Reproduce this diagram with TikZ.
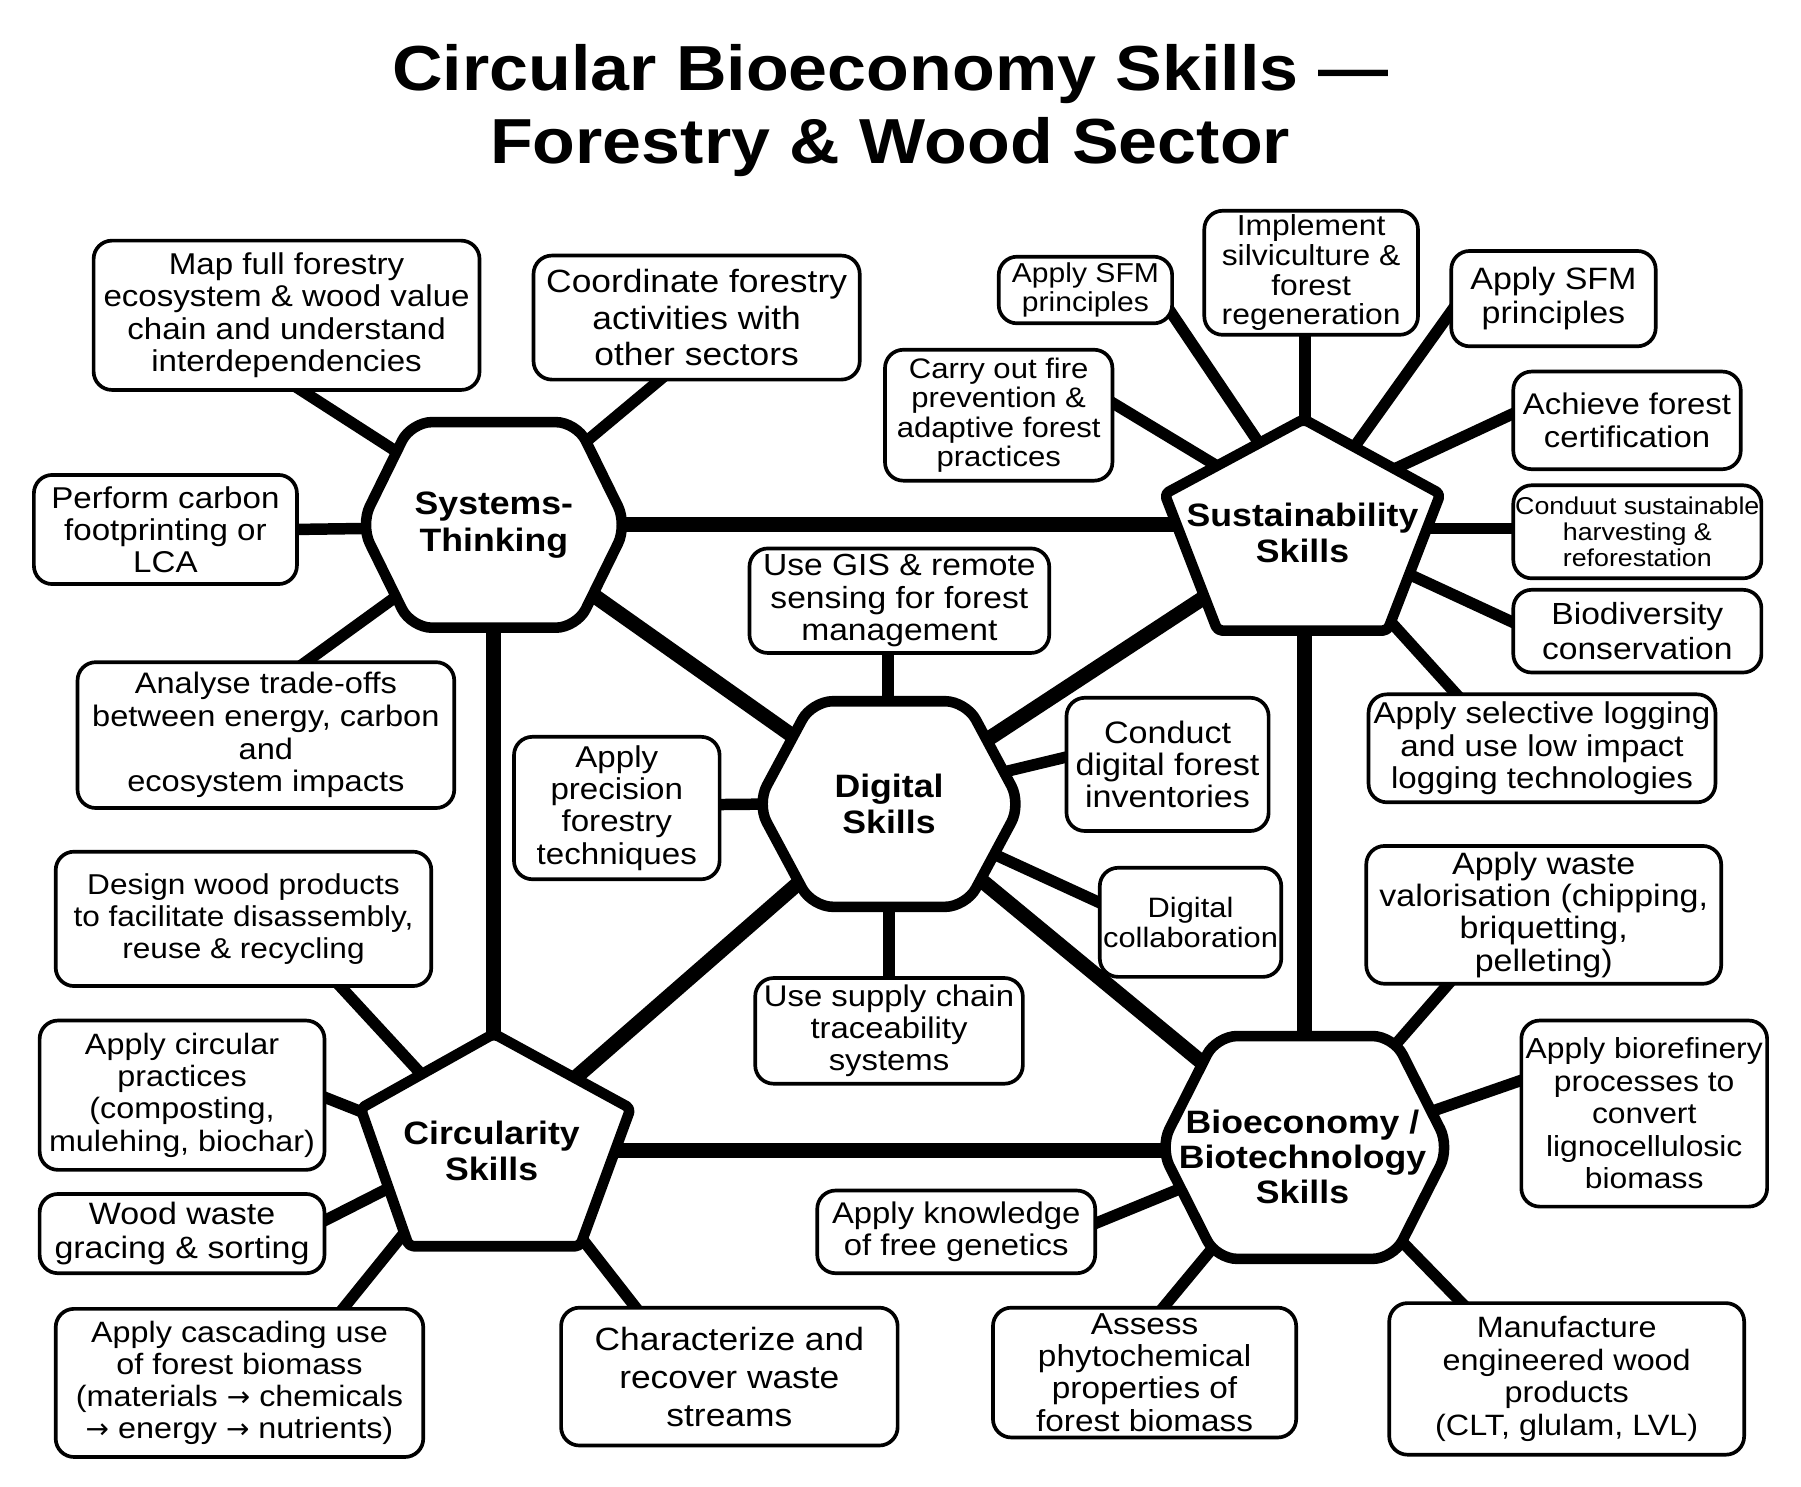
\documentclass[tikz,border=0pt]{standalone}
\usepackage{fontspec}
\setmainfont{Liberation Sans}[FakeStretch=1.1]
\newfontfamily\arrfont{DejaVu Sans}[Scale=0.95]
\newcommand{\rarr}{{\arrfont →}}
\usetikzlibrary{calc}
\pgfdeclarelayer{conn}
\pgfdeclarelayer{hubs}
\pgfsetlayers{conn,hubs,main}
\begin{document}
\begin{tikzpicture}[x=0.5pt,y=-0.5pt,
  box/.style={draw, line width=1.6pt, rounded corners=8pt, fill=white, align=center, inner sep=0pt},
  fs/.style 2 args={font=\fontsize{#1pt}{#2pt}\selectfont},
  hubtext/.style={font=\fontsize{14.1pt}{16pt}\selectfont\bfseries, align=center, inner sep=0pt},
  hubshape/.style={draw, fill=white, line width=4.6pt, line join=round},
  hubline/.style={line width=6.5pt},
  leaf/.style={line width=5pt},
  title/.style={font=\fontsize{27.7pt}{31pt}\selectfont\bfseries, anchor=base, inner sep=0pt}]
\useasboundingbox (0,0) rectangle (1568,1294);

% title
\node[title] (t1) at (775,79) {Circular Bioeconomy Skills —};
\node[title] (t2) at (775,142) {Forestry \& Wood Sector};

% hub texts
\node[hubtext] (st) at (430,457) {Systems-\\Thinking};
\node[hubtext] (su) at (1134,464) {Sustainability\\Skills};
\node[hubtext] (dg) at (774,700) {Digital\\Skills};
\node[hubtext] (ci) at (428,1002) {Circularity\\Skills};
\coordinate (bio) at (1136,999);
\node[hubtext, font=\fontsize{14.1pt}{15.3pt}\selectfont\bfseries] (biot) at (1134,1007) {Bioeconomy /\\Biotechnology\\Skills};

% leaf boxes
\node[box, fs={13.1}{14}, minimum width=168pt, minimum height=65pt] (map) at (249.5,274.5) {Map full forestry\\ecosystem \& wood value\\chain and understand\\interdependencies};
\node[box, fs={14}{15.75}, minimum width=142pt, minimum height=54pt] (coord) at (606.5,276.5) {Coordinate forestry\\activities with\\other sectors};
\node[box, fs={13.1}{14}, minimum width=114.5pt, minimum height=47.5pt] (carbon) at (144,461) {Perform carbon\\footprinting or\\LCA};
\node[box, fs={12.9}{14.2}, minimum width=164pt, minimum height=63.5pt] (trade) at (231.5,640) {Analyse trade-offs\\between energy, carbon\\and\\ecosystem impacts};
\node[box, fs={11.9}{12.5}, minimum width=75.5pt, minimum height=29pt] (sfmA) at (945,252.5) {Apply SFM\\principles};
\node[box, fs={12.6}{12.85}, minimum width=93pt, minimum height=54pt] (silvi) at (1141.5,237.5) {Implement\\silviculture \&\\forest\\regeneration};
\node[box, fs={13.45}{14.5}, minimum width=89pt, minimum height=41.5pt] (sfmB) at (1352.5,260) {Apply SFM\\principles};
\node[box, fs={13}{14}, minimum width=99pt, minimum height=42.5pt] (cert) at (1416.5,366) {Achieve forest\\certification};
\node[box, fs={10.6}{11.5}, minimum width=108pt, minimum height=40.5pt] (harv) at (1425.5,463) {Conduut sustainable\\harvesting \&\\reforestation};
\node[box, fs={13.3}{15}, minimum width=108pt, minimum height=36pt] (biod) at (1425.5,549.5) {Biodiversity\\conservation};
\node[box, fs={13.1}{14.2}, minimum width=151pt, minimum height=47pt] (sel) at (1342.5,651.5) {Apply selective logging\\and use low impact\\logging technologies};
\node[box, fs={12.3}{12.85}, minimum width=99pt, minimum height=57pt] (fire) at (869.5,361.5) {Carry out fire\\prevention \&\\adaptive forest\\practices};
\node[box, fs={13.3}{14.2}, minimum width=130.5pt, minimum height=45.5pt] (gis) at (783,523) {Use GIS \& remote\\sensing for forest\\management};
\node[box, fs={13.1}{14}, minimum width=89.5pt, minimum height=62pt] (prec) at (537,703.5) {Apply\\precision\\forestry\\techniques};
\node[box, fs={13.5}{14}, minimum width=88pt, minimum height=58pt] (inv) at (1016.5,665.5) {Conduct\\digital forest\\inventories};
\node[box, fs={12.2}{13}, minimum width=79pt, minimum height=47.5pt] (collab) at (1036.5,803) {Digital\\collaboration};
\node[box, fs={13}{14}, minimum width=116.5pt, minimum height=46pt] (supply) at (774,897.5) {Use supply chain\\traceability\\systems};
\node[box, fs={12.5}{14}, minimum width=163.5pt, minimum height=58.5pt] (design) at (212,800) {Design wood products\\to facilitate disassembly,\\reuse \& recycling};
\node[box, fs={12.8}{14}, minimum width=124pt, minimum height=65pt] (circ) at (158.5,953.5) {Apply circular\\practices\\(composting,\\mulehing, biochar)};
\node[box, fs={13.45}{14.5}, minimum width=124pt, minimum height=34.5pt] (wood) at (158.5,1074) {Wood waste\\gracing \& sorting};
\node[box, fs={12.8}{14}, minimum width=160pt, minimum height=64.5pt] (casc) at (208.5,1204) {Apply cascading use\\of forest biomass\\(materials \rarr{} chemicals\\\rarr{} energy \rarr{} nutrients)};
\node[box, fs={14}{16.5}, minimum width=146.5pt, minimum height=60pt] (char) at (635,1198.5) {Characterize and\\recover waste\\streams};
\node[box, fs={13.45}{14}, minimum width=154.5pt, minimum height=60pt] (valor) at (1344,796.5) {Apply waste\\valorisation (chipping,\\briquetting,\\pelleting)};
\node[box, fs={12.6}{14.15}, minimum width=107pt, minimum height=81pt] (bioref) at (1431.5,969.5) {Apply biorefinery\\processes to\\convert\\lignocellulosic\\biomass};
\node[box, fs={13}{14}, minimum width=121pt, minimum height=36pt] (gen) at (832.5,1072.5) {Apply knowledge\\of free genetics};
\node[box, fs={13.2}{14}, minimum width=132pt, minimum height=56.5pt] (assess) at (996.5,1195) {Assess\\phytochemical\\properties of\\forest biomass};
\node[box, fs={12.8}{14.15}, minimum width=154.5pt, minimum height=66pt] (manuf) at (1364,1200.5) {Manufacture\\engineered wood\\products\\(CLT, glulam, LVL)};

% hub shapes
\begin{pgfonlayer}{hubs}
\draw[hubshape, rounded corners=9pt] ($(st)+(0,-89.5)$) -- ($(st)+(72,-89.5)$) -- ($(st)+(116,0)$) -- ($(st)+(72,89.5)$) -- ($(st)+(-72,89.5)$) -- ($(st)+(-116,0)$) -- ($(st)+(-72,-89.5)$) -- cycle;
\draw[hubshape, rounded corners=9pt] ($(dg)+(0,-89.5)$) -- ($(dg)+(67,-89.5)$) -- ($(dg)+(115,0)$) -- ($(dg)+(67,89.5)$) -- ($(dg)+(-67,89.5)$) -- ($(dg)+(-115,0)$) -- ($(dg)+(-67,-89.5)$) -- cycle;
\draw[hubshape, rounded corners=9pt] ($(bio)+(0,-97)$) -- ($(bio)+(77,-97)$) -- ($(bio)+(126,0)$) -- ($(bio)+(77,97)$) -- ($(bio)+(-77,97)$) -- ($(bio)+(-126,0)$) -- ($(bio)+(-77,-97)$) -- cycle;
\draw[hubshape, rounded corners=2pt] ($(su)+(0,85)$) -- ($(su)+(-74,85)$) -- ($(su)+(-120,-34)$) -- ($(su)+(1,-99)$) -- ($(su)+(120,-34)$) -- ($(su)+(74,85)$) -- cycle;
\draw[hubshape, rounded corners=2pt] ($(ci)+(2,83)$) -- ($(ci)+(-72,83)$) -- ($(ci)+(-114,-37)$) -- ($(ci)+(2,-102)$) -- ($(ci)+(121,-37)$) -- ($(ci)+(77,83)$) -- cycle;
\end{pgfonlayer}

% connectors
\begin{pgfonlayer}{conn}
\fill[white] (0,0) rectangle (1568,1294);
\draw[hubline] (st.center) -- (st.center -| su.center);
\draw[hubline] (st.center) -- (st.center |- ci.center);
\draw[hubline] (bio) -- (bio |- su.center);
\draw[hubline] (ci.center) -- (ci.center -| bio);
\draw[hubline] (st.center) -- (dg.center);
\draw[hubline] (su.center) -- (dg.center);
\draw[hubline] (ci.center) -- (dg.center);
\draw[hubline] (bio) -- (dg.center);
% systems
\draw[leaf] ($(map.south)+(5.5,-6)$) -- ($(st)+(-68,-53)$);
\draw[leaf] ($(coord.south)+(-26.5,-6)$) -- ($(st)+(64,-59)$);
\draw[leaf] ($(carbon.east)+(-6,0)$) -- ($(st)+(-105,3)$);
\draw[leaf] ($(trade.north)+(28.5,6)$) -- ($(st)+(-68,50)$);
% sustainability
\draw[leaf] ($(sfmA.east)+(-6,14.5)$) -- ($(su)+(-31,-68)$);
\draw[leaf] ($(silvi.south)+(-5.5,-6)$) -- ($(su)+(2,-84)$);
\draw[leaf] ($(sfmB.west)+(6,5)$) -- ($(su)+(38,-65)$);
\draw[leaf] ($(cert.west)+(6,-8)$) -- ($(su)+(72,-52)$);
\draw[leaf] ($(harv.west)+(6,-3)$) -- ($(su)+(80,-4)$);
\draw[leaf] ($(biod.west)+(6,-5.5)$) -- ($(su)+(82,31)$);
\draw[leaf] ($(sel.north)+(-70.5,6)$) -- ($(su)+(71,71)$);
\draw[leaf] ($(fire.east)+(-6,-13.5)$) -- ($(su)+(-64,-52)$);
% digital
\draw[leaf] ($(gis.south)+(-10,-6)$) -- ($(dg)+(-1,-80)$);
\draw[leaf] ($(prec.east)+(-6,-3)$) -- ($(dg)+(-100,0)$);
\draw[leaf] ($(inv.west)+(6,-7.5)$) -- ($(dg)+(88,-25)$);
\draw[leaf] ($(collab.west)+(6,-15)$) -- ($(dg)+(79,38)$);
\draw[leaf] ($(supply.north)+(0,6)$) -- ($(dg)+(0,80)$);
% circularity
\draw[leaf] ($(design.south)+(80,-6)$) -- ($(ci)+(-54,-59)$);
\draw[leaf] ($(circ.east)+(-6,0)$) -- ($(ci)+(-98,-28)$);
\draw[leaf] ($(wood.east)+(-6,-9)$) -- ($(ci)+(-81,28)$);
\draw[leaf] ($(casc.north)+(86.5,6)$) -- ($(ci)+(-70,64)$);
\draw[leaf] ($(char.north)+(-78,6)$) -- ($(ci)+(69,64)$);
% bioeconomy
\draw[leaf] ($(valor.south)+(-79,-6)$) -- ($(bio)+(61,-69)$);
\draw[leaf] ($(bioref.west)+(6,-30.5)$) -- ($(bio)+(92,-25)$);
\draw[leaf] ($(gen.east)+(-6,-5.5)$) -- ($(bio)+(-99,32)$);
\draw[leaf] ($(assess.north)+(12.5,6)$) -- ($(bio)+(-69,74)$);
\draw[leaf] ($(manuf.north)+(-87,6)$) -- ($(bio)+(68,65)$);
\end{pgfonlayer}
\end{tikzpicture}
\end{document}
